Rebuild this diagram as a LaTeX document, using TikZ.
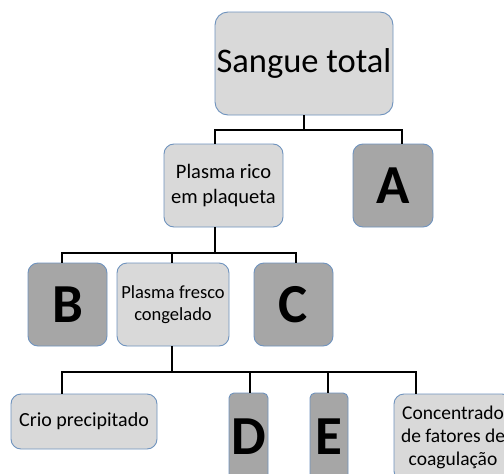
\documentclass[tikz,border=0pt]{standalone}
\usepackage{fontspec}
\setmainfont{Carlito}
\definecolor{lightbox}{HTML}{D9D9D9}
\definecolor{darkbox}{HTML}{A6A6A6}
\definecolor{boxline}{HTML}{6F93BE}
\tikzset{
  box/.style={draw=boxline, line width=0.9pt, rounded corners=10pt, align=center, inner sep=0pt, anchor=center},
  lightnode/.style={box, fill=lightbox},
  darknode/.style={box, fill=darkbox, font=\fontsize{55}{60}\selectfont\bfseries},
  conn/.style={draw=black, line width=2pt}
}
\begin{document}
\begin{tikzpicture}[x=1pt,y=-1pt]
\path[use as bounding box, clip] (0,0) rectangle (504,474);
\fill[white] (0,0) rectangle (504,474);
% level 0
\node[lightnode, minimum width=178pt, minimum height=103pt, rounded corners=13pt, font=\fontsize{34.5}{40}\selectfont] (st) at (304,63.5) {Sangue total};
% level 1
\node[lightnode, minimum width=119pt, minimum height=83pt, font=\fontsize{20.5}{25}\selectfont] (prp) at (223.5,185.5) {Plasma rico\\em plaqueta};
\node[darknode, minimum width=80pt, minimum height=83pt] (a) at (393,185.5) {A};
% level 2
\node[darknode, minimum width=79pt, minimum height=83pt] (b) at (67.5,304.5) {B};
\node[lightnode, minimum width=112pt, minimum height=83pt, font=\fontsize{18.5}{22}\selectfont] (pf) at (173,304.5) {Plasma fresco\\congelado};
\node[darknode, minimum width=79pt, minimum height=83pt] (c) at (293.5,304.5) {C};
% level 3
\node[lightnode, minimum width=146pt, minimum height=55pt, font=\fontsize{20}{23}\selectfont] (crio) at (84,421.5) {Crio precipitado};
\node[darknode, minimum width=39pt, minimum height=88pt, rounded corners=5pt] (d) at (248.5,437) {D};
\node[darknode, minimum width=38pt, minimum height=88pt, rounded corners=5pt] (e) at (329,437) {E};
\node[lightnode, minimum width=118pt, minimum height=87pt, font=\fontsize{19.5}{23}\selectfont] (conc) at (453,437.5) {Concentrado\\de fatores de\\coagulação};
% bus coordinates
\coordinate (bus1) at (0,130);
\coordinate (bus2) at (0,253);
\coordinate (bus3) at (0,372);
% connectors level 0 -> 1
\draw[conn] (st.south) -- (st.south |- bus1);
\draw[conn] ([xshift=-8.5pt]prp.north) |- ([xshift=9pt]a.north |- bus1) -- ([xshift=9pt]a.north);
% level 1 -> 2
\draw[conn] ([xshift=-8.5pt]prp.south) -- ([xshift=-8.5pt]prp.south |- bus2);
\draw[conn] ([xshift=-5.5pt]b.north) |- ([xshift=2.5pt]c.north |- bus2) -- ([xshift=2.5pt]c.north);
\draw[conn] ([xshift=-1pt]pf.north) -- ([xshift=-1pt]pf.north |- bus2);
% level 2 -> 3
\draw[conn] ([xshift=-1pt]pf.south) -- ([xshift=-1pt]pf.south |- bus3);
\draw[conn] ([xshift=-22pt]crio.north) |- ([xshift=-37pt]conc.north |- bus3) -- ([xshift=-37pt]conc.north);
\draw[conn] ([xshift=1.5pt]d.north) -- ([xshift=1.5pt]d.north |- bus3);
\draw[conn] ([xshift=-1pt]e.north) -- ([xshift=-1pt]e.north |- bus3);
\end{tikzpicture}
\end{document}
